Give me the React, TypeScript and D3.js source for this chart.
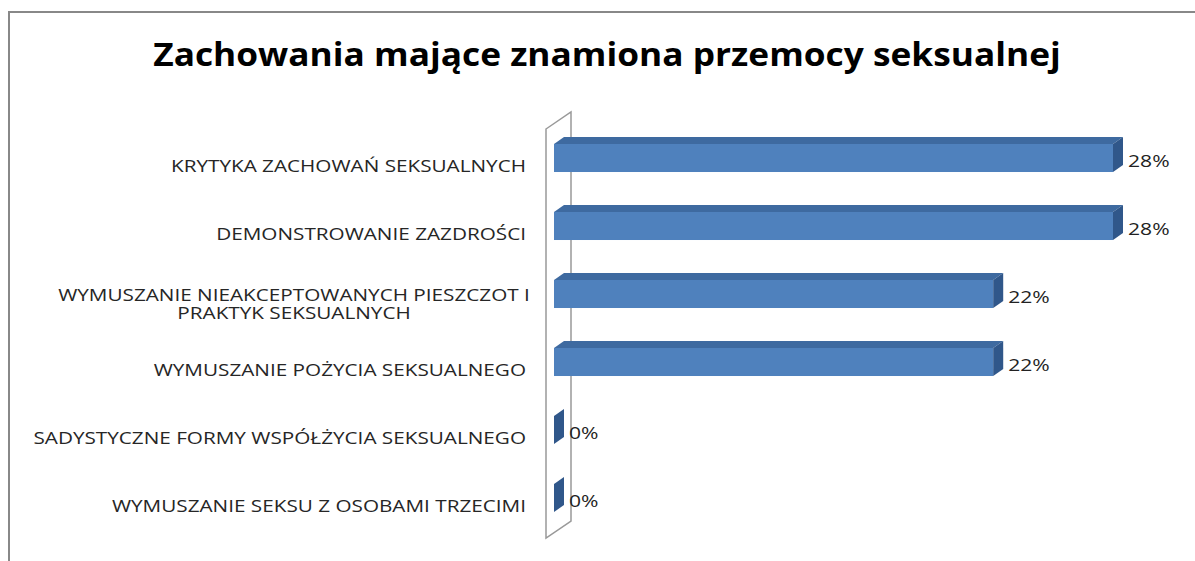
import React from "react";
import * as d3 from "d3";

const categories: string[][] = [
  ["KRYTYKA ZACHOWAŃ SEKSUALNYCH"],
  ["DEMONSTROWANIE ZAZDROŚCI"],
  ["WYMUSZANIE NIEAKCEPTOWANYCH PIESZCZOT I", "PRAKTYK SEKSUALNYCH"],
  ["WYMUSZANIE POŻYCIA SEKSUALNEGO"],
  ["SADYSTYCZNE FORMY WSPÓŁŻYCIA SEKSUALNEGO"],
  ["WYMUSZANIE SEKSU Z OSOBAMI TRZECIMI"],
];
const values: number[] = [28, 28, 22, 22, 0, 0];
const valueLabels: string[] = ["28%", "28%", "22%", "22%", "0%", "0%"];
const title = "Zachowania mające znamiona przemocy seksualnej";

const W = 1195;
const H = 561;
const FONT = "'Open Sans', 'DejaVu Sans', sans-serif";

export default function App() {
  const ids = categories.map((_, i) => String(i));
  const y = d3.scaleBand<string>().domain(ids).range([124, 532]).paddingInner(0.588).paddingOuter(0.294);
  const x = d3.scaleLinear().domain([0, 28]).range([554, 1113]);
  const dx = 10;
  const dy = -7;
  const wx = x(0) - 8;
  const wdx = 25;
  const wdy = -17;
  const wTop = y.range()[0] + 5;
  const wBot = y.range()[1] + 6;
  const labelScale = 1.255;
  const lineH = 19;

  return (
    <svg width={W} height={H} style={{ position: "absolute", left: 0, top: 0, background: "#fff" }}>
      <rect x={9} y={12} width={W + 20} height={H + 20} fill="#fff" stroke="#888" strokeWidth={2} />
      <text
        transform={`translate(607,66) scale(1.12,1)`}
        textAnchor="middle"
        fontFamily={FONT}
        fontWeight="bold"
        fontSize={31.5}
        fill="#000"
      >
        {title}
      </text>
      {/* wall */}
      <path
        d={`M${wx},${wTop} L${wx + wdx},${wTop + wdy} L${wx + wdx},${wBot + wdy} L${wx},${wBot} Z`}
        fill="#fff"
        stroke="#999"
        strokeWidth={1.5}
      />
      {values.map((v, i) => {
        const y0 = y(String(i))!;
        const y1 = y0 + y.bandwidth();
        const x0 = x(0);
        const x1 = x(v);
        return (
          <g key={i}>
            {v > 0 && <rect x={x0} y={y0} width={x1 - x0} height={y1 - y0} fill="#4F81BD" />}
            {v > 0 && (
              <path
                d={`M${x0},${y0} L${x0 + dx},${y0 + dy} L${x1 + dx},${y0 + dy} L${x1},${y0} Z`}
                fill="#3E6AA0"
              />
            )}
            <path
              d={`M${x1},${y0} L${x1 + dx},${y0 + dy} L${x1 + dx},${y1 + dy} L${x1},${y1} Z`}
              fill="#30578A"
            />
            <text
              transform={`translate(${x1 + dx + 5},${(y0 + y1) / 2 + 9}) scale(1.28,1)`}
              fontFamily={FONT}
              fontSize={16.5}
              fill="#222"
            >
              {valueLabels[i]}
            </text>
          </g>
        );
      })}
      {categories.map((lines, i) => {
        const c = y(String(i))! + y.bandwidth() / 2;
        const n = lines.length;
        const base = c + 14 + (n - 1) * 2 - ((n - 1) / 2) * lineH;
        const anchor = n > 1 ? "middle" : "end";
        const lx = n > 1 ? 294 : 526;
        return (
          <text
            key={i}
            transform={`translate(${lx},${base}) scale(${labelScale},1)`}
            textAnchor={anchor}
            fontFamily={FONT}
            fontSize={16.5}
            fill="#262626"
          >
            {lines.map((ln, j) => (
              <tspan key={j} x={0} dy={j === 0 ? 0 : lineH}>
                {ln}
              </tspan>
            ))}
          </text>
        );
      })}
    </svg>
  );
}
